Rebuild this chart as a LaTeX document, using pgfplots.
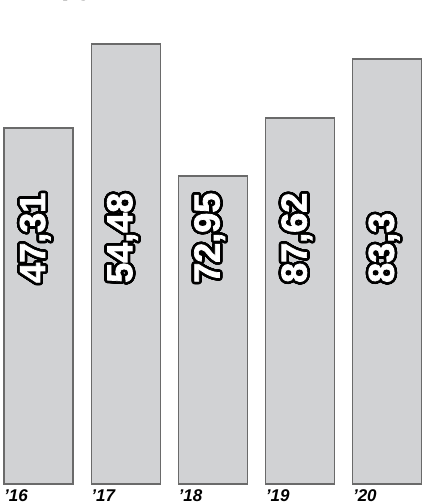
\documentclass[border=0pt]{standalone}
\usepackage{pgfplots}
\pgfplotsset{compat=1.18}
\usepackage{pgfplotstable}
\usepackage{fontspec}
\setmainfont{Liberation Sans}
\newfontfamily\heavyfont{Liberation Sans}[FakeBold=2]
\usepackage{contour}
\contourlength{2.6pt}
\contournumber{40}
\definecolor{barfill}{HTML}{D1D2D4}
\definecolor{baredge}{HTML}{6A6A6A}
\pgfplotstableread{
x h ly label yr
0 356 204 {47,31} '16
1 440 204 {54,48} '17
2 308 204 {72,95} '18
3 366 204 {87,62} '19
4 425 204 {83,3} '20
}\data
\begin{document}
\begin{tikzpicture}
\begin{axis}[
  scale only axis, width=421pt, height=503pt,
  xmin=-0.4415, xmax=4.386, ymin=-19, ymax=484,
  hide axis, clip=false]
\addplot[ybar, bar width=0.791, fill=barfill, draw=baredge, line width=1.2pt]
  table[x=x, y=h] {\data};
\addplot[draw=none, mark=none, nodes near coords={\contour{black}{\pgfplotspointmeta}},
  point meta=explicit symbolic,
  nodes near coords style={rotate=90, anchor=west, inner sep=0pt, text=white,
    font=\fontsize{36}{36}\selectfont\heavyfont\bfseries, xshift=-3pt, yshift=2pt}]
  table[x=x, y=ly, meta=label] {\data};
\addplot[draw=none, mark=none, nodes near coords, point meta=explicit symbolic,
  nodes near coords style={anchor=base west, inner sep=0pt, text=black,
    font=\fontsize{17}{17}\selectfont\bfseries\itshape}]
  table[x expr=\thisrow{x}-0.3955, y expr=-17.5, meta=yr] {\data};
\end{axis}
\node[anchor=base west, inner sep=0pt, font=\fontsize{30}{30}\selectfont\bfseries] at (61pt,508pt) {py};
\pgfresetboundingbox
\path[use as bounding box] (0,0) rectangle (421pt,503pt);
\end{tikzpicture}
\end{document}
